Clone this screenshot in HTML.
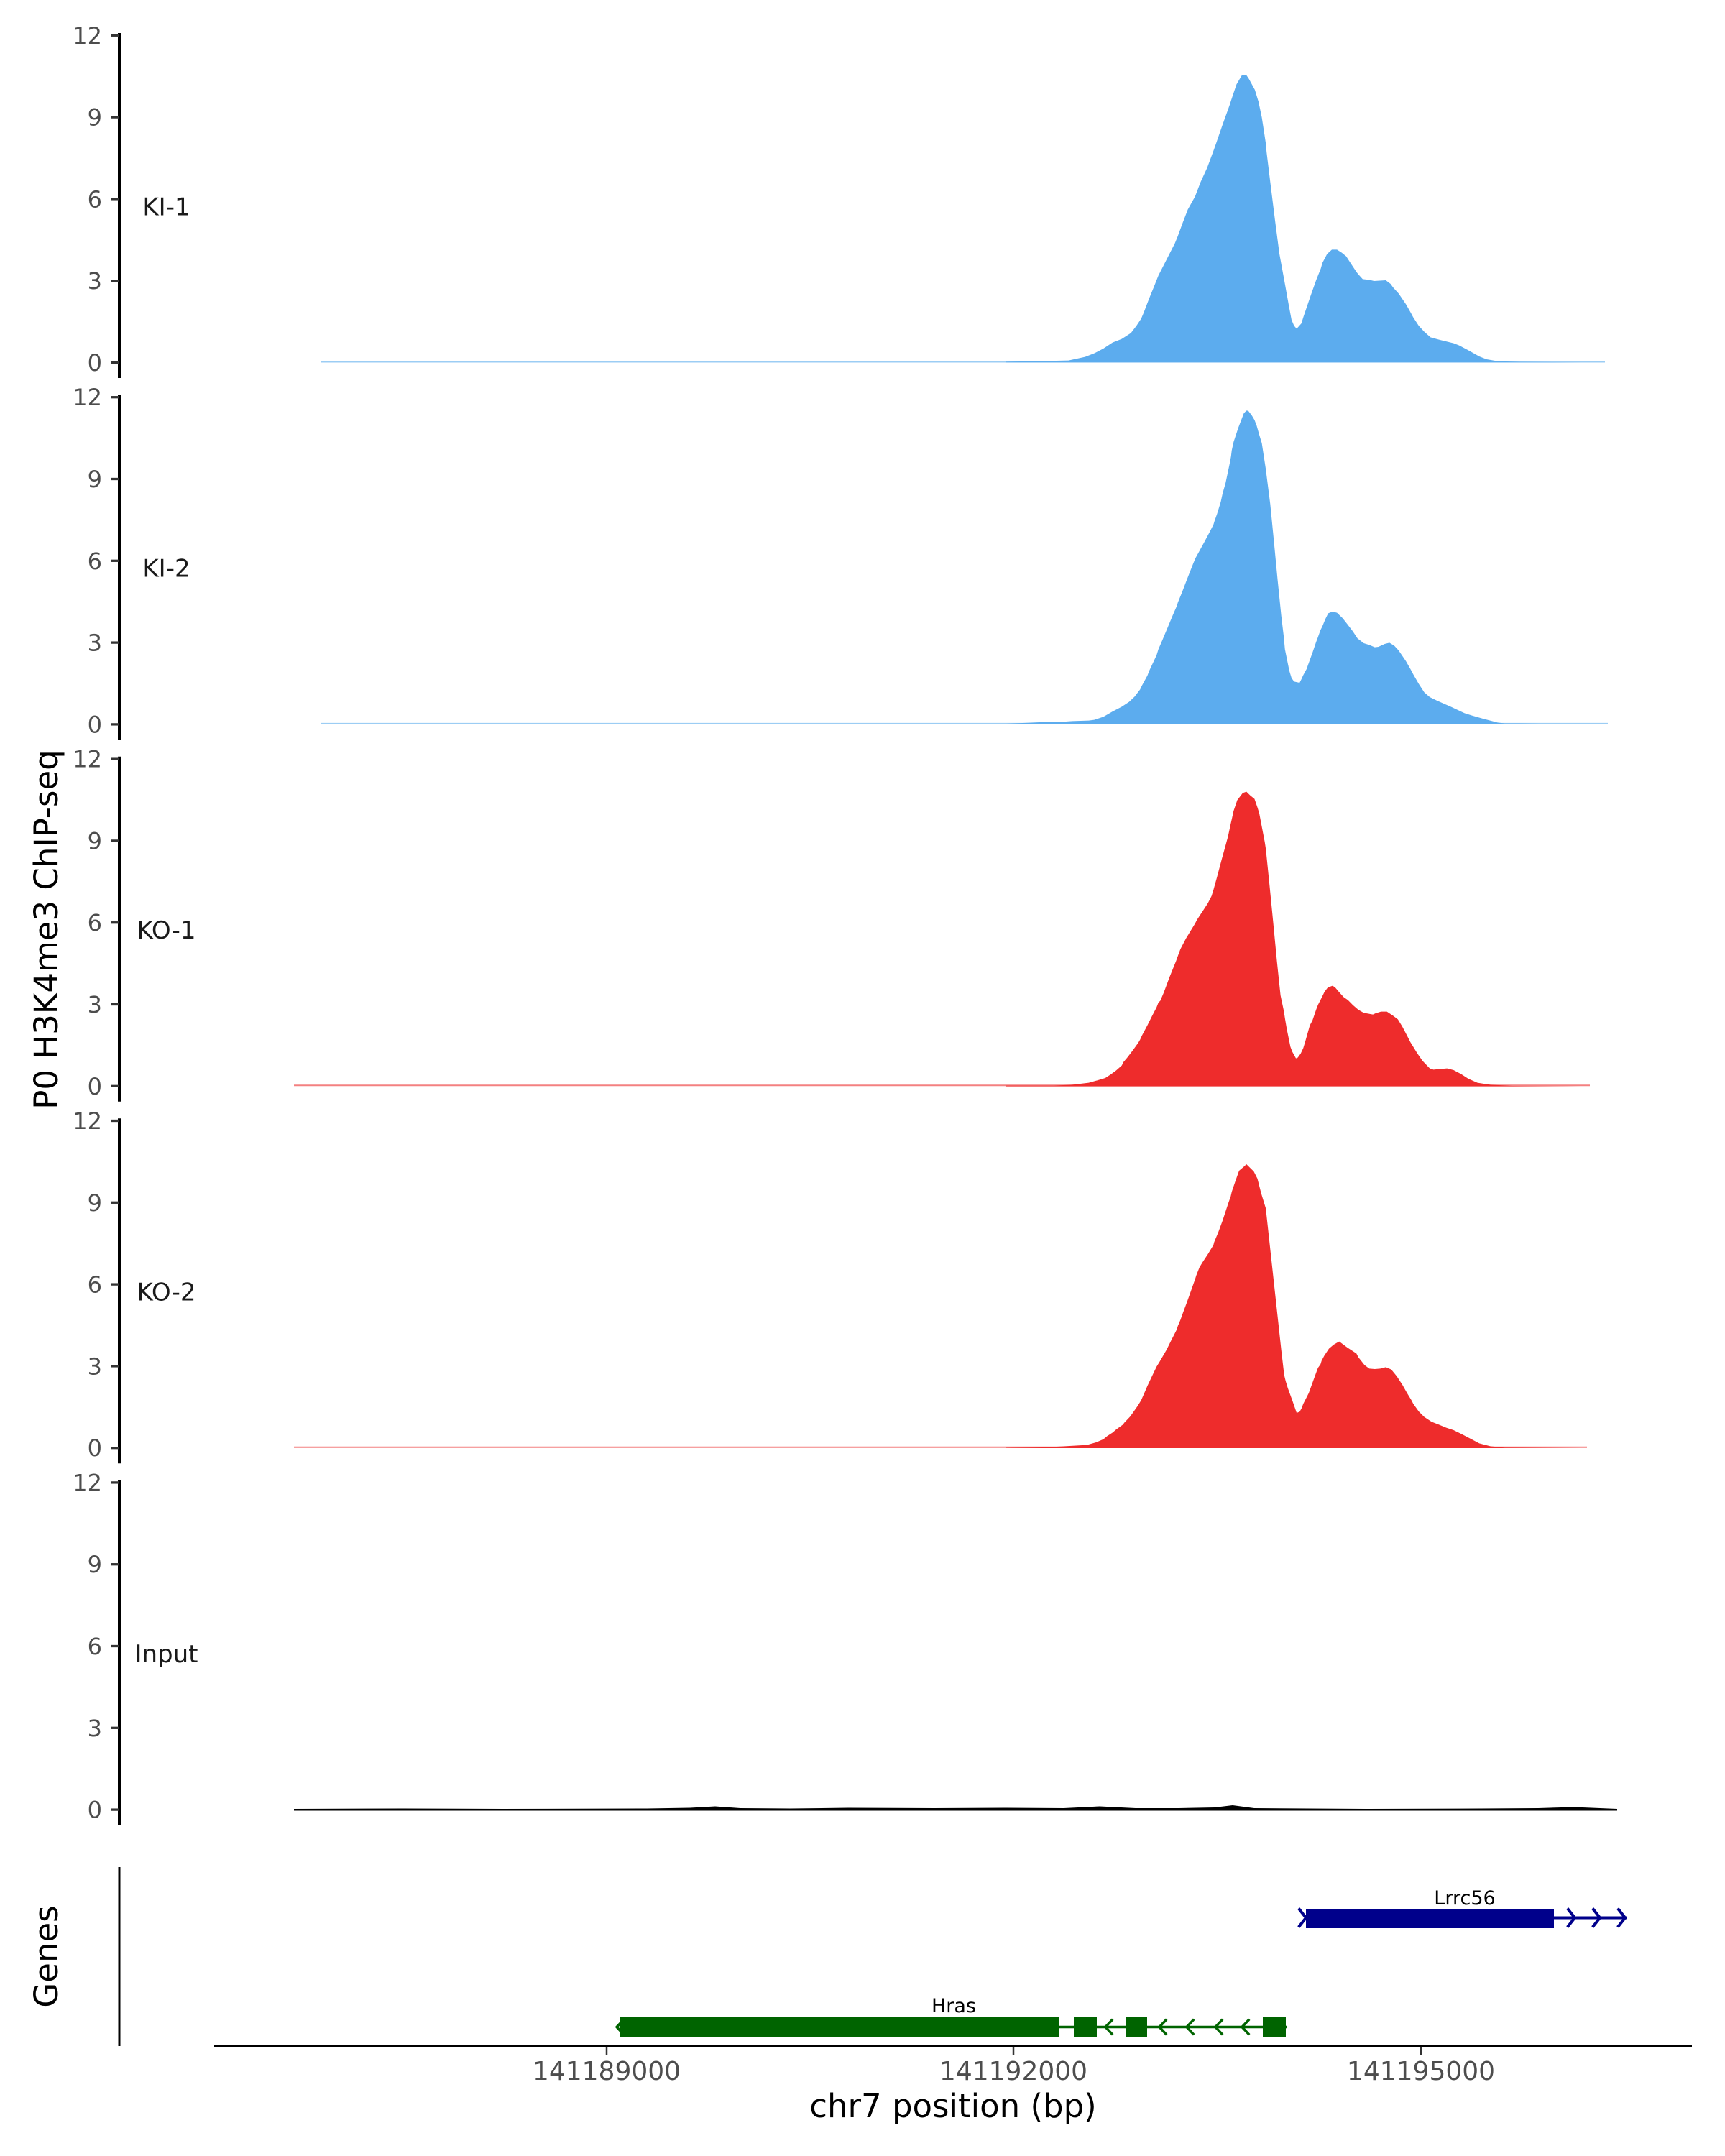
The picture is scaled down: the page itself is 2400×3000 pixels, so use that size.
<!DOCTYPE html>
<html><head><meta charset="utf-8"><style>
html,body{margin:0;padding:0;background:#fff;}
svg{display:block;}
text{font-family:"DejaVu Sans","Liberation Sans",sans-serif;}
.tk{font-size:32px;fill:#4d4d4d;text-anchor:end;}
.lab{font-size:34px;fill:#1a1a1a;text-anchor:middle;}
.xt{font-size:36px;fill:#4d4d4d;text-anchor:middle;}
.ttl{font-size:45px;fill:#000;text-anchor:middle;}
.gl{font-size:27px;fill:#000;text-anchor:middle;}
</style></head><body>
<svg width="2400" height="3000" viewBox="0 0 2400 3000" xmlns="http://www.w3.org/2000/svg">
<rect width="2400" height="3000" fill="#fff"/>

<!-- y axes and ticks -->
<g id="axes">
  <g>
    <line x1="166" y1="46" x2="166" y2="526" stroke="#000" stroke-width="4"/>
    <g stroke="#333" stroke-width="3.3">
      <line x1="155" y1="49.3" x2="166" y2="49.3"/><line x1="155" y1="163.1" x2="166" y2="163.1"/><line x1="155" y1="276.9" x2="166" y2="276.9"/><line x1="155" y1="390.7" x2="166" y2="390.7"/><line x1="155" y1="504.5" x2="166" y2="504.5"/>
    </g>
    <text class="tk" x="142" y="60.8">12</text><text class="tk" x="142" y="174.6">9</text><text class="tk" x="142" y="288.4">6</text><text class="tk" x="142" y="402.2">3</text><text class="tk" x="142" y="516">0</text>
    <text class="lab" x="231.5" y="299.3">KI-1</text>
  </g>
  <g transform="translate(0,503.4)">
    <line x1="166" y1="46" x2="166" y2="526" stroke="#000" stroke-width="4"/>
    <g stroke="#333" stroke-width="3.3">
      <line x1="155" y1="49.3" x2="166" y2="49.3"/><line x1="155" y1="163.1" x2="166" y2="163.1"/><line x1="155" y1="276.9" x2="166" y2="276.9"/><line x1="155" y1="390.7" x2="166" y2="390.7"/><line x1="155" y1="504.5" x2="166" y2="504.5"/>
    </g>
    <text class="tk" x="142" y="60.8">12</text><text class="tk" x="142" y="174.6">9</text><text class="tk" x="142" y="288.4">6</text><text class="tk" x="142" y="402.2">3</text><text class="tk" x="142" y="516">0</text>
    <text class="lab" x="231.5" y="299.3">KI-2</text>
  </g>
  <g transform="translate(0,1006.8)">
    <line x1="166" y1="46" x2="166" y2="526" stroke="#000" stroke-width="4"/>
    <g stroke="#333" stroke-width="3.3">
      <line x1="155" y1="49.3" x2="166" y2="49.3"/><line x1="155" y1="163.1" x2="166" y2="163.1"/><line x1="155" y1="276.9" x2="166" y2="276.9"/><line x1="155" y1="390.7" x2="166" y2="390.7"/><line x1="155" y1="504.5" x2="166" y2="504.5"/>
    </g>
    <text class="tk" x="142" y="60.8">12</text><text class="tk" x="142" y="174.6">9</text><text class="tk" x="142" y="288.4">6</text><text class="tk" x="142" y="402.2">3</text><text class="tk" x="142" y="516">0</text>
    <text class="lab" x="231.5" y="299.3">KO-1</text>
  </g>
  <g transform="translate(0,1510.2)">
    <line x1="166" y1="46" x2="166" y2="526" stroke="#000" stroke-width="4"/>
    <g stroke="#333" stroke-width="3.3">
      <line x1="155" y1="49.3" x2="166" y2="49.3"/><line x1="155" y1="163.1" x2="166" y2="163.1"/><line x1="155" y1="276.9" x2="166" y2="276.9"/><line x1="155" y1="390.7" x2="166" y2="390.7"/><line x1="155" y1="504.5" x2="166" y2="504.5"/>
    </g>
    <text class="tk" x="142" y="60.8">12</text><text class="tk" x="142" y="174.6">9</text><text class="tk" x="142" y="288.4">6</text><text class="tk" x="142" y="402.2">3</text><text class="tk" x="142" y="516">0</text>
    <text class="lab" x="231.5" y="299.3">KO-2</text>
  </g>
  <g transform="translate(0,2013.6)">
    <line x1="166" y1="46" x2="166" y2="526" stroke="#000" stroke-width="4"/>
    <g stroke="#333" stroke-width="3.3">
      <line x1="155" y1="49.3" x2="166" y2="49.3"/><line x1="155" y1="163.1" x2="166" y2="163.1"/><line x1="155" y1="276.9" x2="166" y2="276.9"/><line x1="155" y1="390.7" x2="166" y2="390.7"/><line x1="155" y1="504.5" x2="166" y2="504.5"/>
    </g>
    <text class="tk" x="142" y="60.8">12</text><text class="tk" x="142" y="174.6">9</text><text class="tk" x="142" y="288.4">6</text><text class="tk" x="142" y="402.2">3</text><text class="tk" x="142" y="516">0</text>
    <text class="lab" x="231.5" y="299.3">Input</text>
  </g>
</g>

<!-- baselines -->
<line x1="447" y1="503.5" x2="2233" y2="503.5" stroke="#5CACEE" stroke-width="2" opacity="0.6"/>
<line x1="447" y1="1006.9" x2="2237" y2="1006.9" stroke="#5CACEE" stroke-width="2" opacity="0.6"/>
<line x1="409" y1="1510.3" x2="2212" y2="1510.3" stroke="#EE2C2C" stroke-width="2" opacity="0.6"/>
<line x1="409" y1="2013.7" x2="2208" y2="2013.7" stroke="#EE2C2C" stroke-width="2" opacity="0.6"/>

<!-- Panel 1 KI-1 -->
<g transform="translate(1400,60) scale(0.5102,0.33333)">
<path fill="#5CACEE" d="M0,1333 L0,1330 L80,1328 L170,1325 L215,1310 L240,1295 L265,1275 L290,1250 L315,1235 L340,1210 L355,1180 L368,1150 L375,1125 L390,1065 L402,1020 L415,970 L425,940 L440,895 L460,835 L468,805 L480,755 L495,695 L515,640 L530,580 L548,520 L565,450 L572,420 L590,340 L610,255 L613,240 L628,172 L643,133 L655,134 L662,150 L678,195 L688,245 L697,310 L708,420 L710,455 L720,580 L733,740 L745,880 L760,1005 L770,1090 L778,1155 L785,1180 L792,1192 L805,1170 L810,1145 L820,1100 L830,1055 L845,990 L858,940 L862,918 L875,880 L888,862 L902,862 L915,875 L927,890 L942,925 L955,955 L960,965 L972,985 L990,988 L1003,993 L1035,990 L1048,1005 L1055,1020 L1070,1045 L1090,1090 L1103,1125 L1110,1145 L1125,1180 L1140,1205 L1157,1228 L1180,1238 L1220,1253 L1235,1262 L1260,1282 L1290,1308 L1310,1320 L1340,1328 L1400,1331 L1568,1333 Z"/>
</g>

<!-- Panel 2 KI-2 -->
<g transform="translate(1400,560) scale(0.5102,0.33333)">
<path fill="#5CACEE" d="M0,1343 L0,1341 L90,1335 L135,1335 L180,1330 L225,1328 L240,1325 L265,1312 L290,1290 L315,1270 L335,1250 L350,1228 L365,1198 L370,1182 L385,1140 L390,1120 L410,1055 L415,1030 L425,995 L440,940 L455,885 L465,850 L468,835 L480,790 L495,730 L510,672 L516,650 L525,625 L540,583 L555,540 L565,510 L568,495 L575,465 L585,415 L590,380 L598,337 L610,250 L613,225 L615,200 L620,165 L633,105 L648,45 L655,34 L660,35 L670,55 L677,73 L683,97 L690,135 L697,170 L700,200 L708,280 L710,305 L720,425 L730,580 L740,740 L750,890 L757,980 L760,1030 L768,1090 L772,1120 L778,1150 L785,1165 L800,1170 L805,1155 L810,1138 L820,1110 L822,1100 L835,1045 L845,1000 L850,980 L857,950 L862,935 L870,905 L878,880 L890,873 L902,878 L917,900 L930,925 L945,955 L958,985 L975,1005 L990,1012 L1005,1022 L1015,1020 L1032,1008 L1045,1003 L1058,1015 L1070,1035 L1090,1080 L1103,1115 L1110,1135 L1125,1175 L1140,1210 L1155,1230 L1175,1245 L1190,1255 L1215,1272 L1230,1283 L1250,1297 L1270,1307 L1300,1320 L1340,1336 L1360,1340 L1400,1340 L1568,1343 Z"/>
</g>

<!-- Panel 3 KO-1 -->
<g transform="translate(1400,1060) scale(0.5102,0.33333)">
<path fill="#EE2C2C" d="M0,1355 L0,1352 L130,1352 L180,1348 L225,1340 L248,1330 L270,1320 L285,1305 L300,1288 L315,1268 L320,1253 L330,1235 L345,1205 L360,1173 L365,1160 L370,1143 L385,1100 L398,1060 L410,1025 L415,1005 L420,998 L430,962 L445,900 L463,832 L467,815 L475,782 L490,738 L505,700 L515,675 L520,660 L535,625 L550,590 L560,560 L565,535 L575,480 L588,405 L598,350 L605,310 L612,260 L615,240 L620,205 L630,160 L645,130 L655,125 L665,140 L677,155 L685,190 L690,215 L695,255 L705,335 L708,365 L718,515 L728,670 L738,830 L748,975 L757,1040 L760,1070 L765,1115 L775,1190 L780,1210 L790,1238 L795,1235 L803,1218 L810,1195 L815,1170 L828,1100 L835,1080 L845,1035 L850,1015 L855,1000 L860,985 L868,960 L877,942 L890,935 L897,942 L908,962 L920,982 L932,995 L945,1015 L960,1035 L975,1048 L1000,1055 L1007,1050 L1022,1043 L1038,1043 L1055,1060 L1068,1075 L1080,1105 L1093,1143 L1102,1170 L1110,1190 L1120,1215 L1135,1248 L1155,1280 L1165,1285 L1180,1283 L1202,1280 L1220,1287 L1240,1303 L1260,1323 L1285,1340 L1320,1348 L1380,1353 L1568,1355 Z"/>
</g>

<!-- Panel 4 KO-2 -->
<g transform="translate(1400,1565) scale(0.5102,0.33333)">
<path fill="#EE2C2C" d="M0,1350 L0,1349 L100,1347 L160,1342 L220,1337 L245,1326 L265,1313 L275,1300 L290,1285 L300,1272 L318,1252 L322,1244 L338,1218 L345,1203 L358,1175 L368,1150 L380,1108 L385,1090 L398,1048 L410,1010 L418,990 L437,940 L450,900 L465,855 L468,840 L475,815 L482,785 L493,740 L500,710 L515,645 L518,630 L527,595 L535,575 L550,540 L565,502 L567,490 L578,450 L590,400 L605,330 L612,300 L615,280 L625,235 L635,192 L648,175 L655,165 L665,180 L675,195 L685,225 L695,285 L708,350 L710,380 L720,520 L730,660 L740,800 L750,940 L758,1045 L762,1070 L768,1100 L780,1150 L792,1203 L800,1198 L805,1185 L810,1165 L825,1120 L838,1065 L850,1015 L857,1000 L860,985 L867,965 L880,935 L893,918 L908,905 L930,930 L955,955 L960,970 L977,1003 L990,1018 L1005,1020 L1020,1018 L1035,1012 L1050,1022 L1065,1050 L1080,1085 L1093,1120 L1105,1150 L1110,1165 L1125,1197 L1140,1220 L1160,1240 L1180,1252 L1200,1265 L1220,1275 L1240,1290 L1265,1310 L1290,1330 L1320,1342 L1360,1348 L1568,1350 Z"/>
</g>

<!-- Input -->
<path fill="#000" d="M409,2517 L560,2516.5 L700,2517 L900,2516.5 L960,2515.5 L995,2513.5 L1030,2516 L1100,2516.5 L1180,2515.5 L1300,2516 L1400,2515.5 L1480,2516 L1530,2513.5 L1580,2516 L1640,2516 L1690,2515 L1715,2512 L1745,2516 L1900,2517 L2060,2516.5 L2140,2516 L2190,2514.5 L2250,2517 L2250,2519.5 L409,2519.5 Z"/>

<!-- Genes axis -->
<line x1="166" y1="2598" x2="166" y2="2847" stroke="#000" stroke-width="3"/>
<text class="ttl" transform="translate(80,2722.5) rotate(-90)">Genes</text>
<text class="ttl" transform="translate(80,1293.5) rotate(-90)">P0 H3K4me3 ChIP-seq</text>

<!-- Lrrc56 -->
<g stroke="#00008B" fill="none" stroke-width="4" stroke-linecap="square">
  <line x1="1817" y1="2668.5" x2="2261" y2="2668.5"/>
  <polyline points="1808,2657 1817,2668.5 1808,2680"/>
  <polyline points="2182,2657 2191,2668.5 2182,2680"/>
  <polyline points="2217,2657 2226,2668.5 2217,2680"/>
  <polyline points="2252,2657 2261,2668.5 2252,2680"/>
</g>
<rect x="1817" y="2656" width="345" height="27" fill="#00008B"/>
<text class="gl" x="2038" y="2650">Lrrc56</text>

<!-- Hras -->
<g stroke="#006400" fill="none" stroke-width="3.5" stroke-linecap="square">
  <line x1="1474" y1="2820.5" x2="1789" y2="2820.5"/>
  <polyline points="867,2811 858,2820.5 867,2830"/>
  <polyline points="1547,2811 1538,2820.5 1547,2830"/>
  <polyline points="1622,2811 1613,2820.5 1622,2830"/>
  <polyline points="1660,2811 1651,2820.5 1660,2830"/>
  <polyline points="1700,2811 1691,2820.5 1700,2830"/>
  <polyline points="1737,2811 1728,2820.5 1737,2830"/>
</g>
<g fill="#006400">
  <rect x="863" y="2807" width="611" height="27"/>
  <rect x="1494" y="2807" width="32" height="27"/>
  <rect x="1567" y="2807" width="29" height="27"/>
  <rect x="1757" y="2807" width="32" height="27"/>
</g>
<text class="gl" x="1327" y="2800">Hras</text>

<!-- x axis -->
<line x1="298" y1="2847" x2="2354" y2="2847" stroke="#000" stroke-width="4"/>
<g stroke="#333" stroke-width="2.5">
  <line x1="844" y1="2849" x2="844" y2="2860"/>
  <line x1="1410" y1="2849" x2="1410" y2="2860"/>
  <line x1="1977" y1="2849" x2="1977" y2="2860"/>
</g>
<text class="xt" x="844" y="2894">141189000</text>
<text class="xt" x="1410" y="2894">141192000</text>
<text class="xt" x="1977" y="2894">141195000</text>
<text class="ttl" x="1326" y="2946">chr7 position (bp)</text>
</svg>
</body></html>
